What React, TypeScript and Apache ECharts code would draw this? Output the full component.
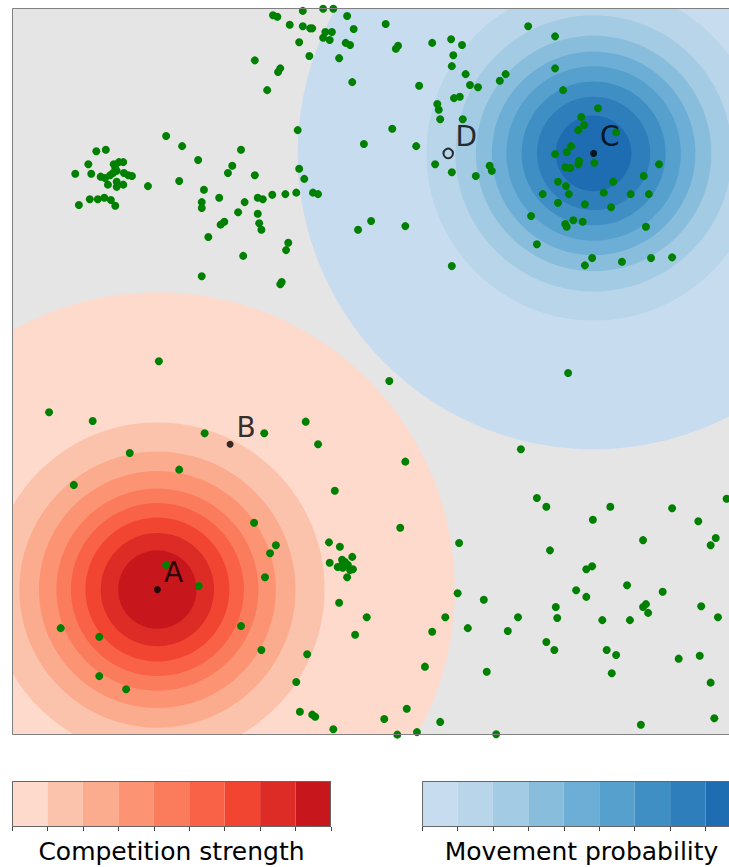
import React, { useEffect, useRef } from "react";
import * as echarts from "echarts";

// Individuals (green points), data units 0..100
const greenPoints: [number, number][] = [
  [35.9, 99.0], [36.5, 98.8], [40.0, 99.6], [42.8, 99.9], [44.2, 99.9], [38.2, 97.7], [40.0, 97.5],
  [41.0, 97.2], [41.3, 97.2], [43.1, 96.7], [44.0, 96.7], [42.8, 95.9], [43.7, 95.6], [39.5, 95.3],
  [46.1, 98.9], [47.0, 97.1], [45.9, 95.2], [46.5, 94.9], [40.9, 93.4], [45.0, 93.1], [33.4, 92.8],
  [36.9, 91.7], [36.6, 91.2], [35.1, 88.7], [46.8, 89.8], [39.3, 83.2], [21.2, 82.4], [23.4, 81.0],
  [31.5, 80.5], [25.6, 79.1], [30.3, 78.3], [29.7, 77.3], [33.4, 77.0], [39.5, 77.9], [40.2, 76.5],
  [18.7, 75.5], [23.0, 76.2], [26.4, 75.0], [26.1, 73.3], [26.1, 72.5], [28.5, 73.9], [32.0, 73.3],
  [31.1, 71.9], [33.8, 73.9], [34.5, 73.7], [35.8, 74.3], [37.6, 74.4], [39.1, 74.6], [41.4, 74.6],
  [42.1, 74.4], [33.8, 71.7], [34.0, 70.4], [34.3, 69.5], [29.2, 70.6], [28.7, 70.2], [27.0, 68.5],
  [38.0, 67.7], [37.7, 66.7], [31.8, 65.9], [26.1, 63.1], [37.1, 62.3], [36.9, 62.0], [47.6, 69.5],
  [11.6, 80.3], [12.9, 80.5], [10.5, 78.5], [8.7, 77.2], [10.9, 77.2], [14.0, 78.5], [14.7, 78.8],
  [15.3, 78.8], [14.2, 78.0], [12.2, 76.8], [12.8, 76.6], [13.5, 77.0], [13.9, 77.3], [14.4, 77.6],
  [15.4, 77.3], [16.0, 77.0], [16.5, 76.9], [13.2, 75.7], [14.4, 76.1], [14.4, 75.4], [15.3, 75.7],
  [9.2, 72.9], [10.7, 73.7], [11.8, 73.7], [12.7, 73.9], [13.6, 73.6], [14.2, 72.8],
  [51.4, 97.8], [52.8, 94.4], [53.1, 94.8], [57.8, 95.2], [60.4, 95.7], [61.9, 94.9], [60.7, 93.5],
  [60.5, 92.0], [62.4, 90.9], [63.0, 89.4], [64.1, 89.1], [67.1, 90.0], [67.9, 90.9], [71.0, 97.5],
  [74.7, 96.1], [74.7, 91.7], [56.0, 89.3], [58.5, 86.8], [58.7, 86.0], [58.9, 84.7], [60.8, 87.6],
  [61.6, 87.8], [62.0, 84.7], [52.3, 83.4], [48.4, 81.3], [55.6, 81.0], [58.2, 78.5], [60.5, 77.4],
  [63.8, 76.9], [65.7, 78.3], [66.0, 77.6], [75.8, 88.7], [80.6, 86.2], [78.3, 85.0], [78.7, 83.9],
  [77.9, 83.2], [83.1, 82.9], [76.9, 81.0], [74.7, 79.9], [76.3, 80.2], [80.1, 78.7], [78.0, 79.0],
  [77.9, 78.5], [76.1, 78.1], [76.8, 78.0], [89.0, 78.5], [86.9, 76.9], [75.1, 76.1], [76.2, 75.5],
  [82.7, 76.1], [73.0, 74.4], [76.6, 74.4], [81.4, 74.6], [85.1, 74.4], [87.6, 74.4], [75.1, 73.2],
  [78.8, 73.0], [82.4, 72.6], [71.4, 71.4], [76.1, 70.3], [76.3, 69.9], [77.2, 70.8], [78.5, 70.6],
  [87.2, 69.9], [72.2, 67.5], [79.8, 65.6], [78.8, 64.6], [83.9, 65.1], [87.9, 65.6], [90.8, 65.7],
  [49.4, 70.7], [54.1, 70.0], [60.5, 64.5],
  [20.2, 51.4], [5.1, 44.4], [11.1, 43.2], [26.5, 41.5], [34.7, 41.5], [40.4, 43.1], [42.1, 40.0],
  [16.2, 38.8], [23.0, 36.5], [8.5, 34.4], [44.4, 33.6], [33.3, 29.2], [36.3, 26.1], [35.5, 25.0],
  [34.8, 21.7], [43.6, 26.5], [45.1, 25.9], [43.7, 23.7], [46.8, 24.5], [45.4, 24.1], [45.8, 23.8],
  [44.8, 23.1], [45.5, 23.0], [46.2, 23.4], [46.5, 22.7], [46.9, 22.8], [45.4, 23.4], [46.1, 21.7],
  [21.2, 23.4], [25.7, 20.5], [45.0, 18.2], [47.2, 13.8], [6.7, 14.7], [12.0, 13.5], [12.0, 8.1],
  [15.7, 6.3], [31.5, 15.0], [34.3, 11.7], [40.6, 11.1], [39.1, 7.3], [39.6, 3.2], [41.3, 2.8],
  [41.7, 2.5], [44.2, 0.8],
  [51.9, 48.7], [76.5, 49.8], [70.0, 39.3], [54.1, 37.6], [72.2, 32.6], [73.5, 31.4], [82.3, 31.4],
  [90.8, 31.2], [98.3, 32.5], [79.9, 29.6], [94.4, 29.4], [53.4, 28.5], [61.5, 26.4], [74.0, 25.4],
  [86.8, 26.8], [96.8, 27.1], [96.1, 26.1], [79.0, 22.8], [79.8, 23.2], [84.6, 20.6], [77.6, 19.9],
  [79.0, 19.0], [89.5, 19.7], [61.3, 19.5], [64.9, 18.6],
  [48.8, 16.2], [59.6, 16.2], [57.8, 14.2], [56.8, 9.4], [54.3, 3.6], [51.2, 2.2], [58.9, 1.8],
  [55.7, 0.4], [66.6, 0.1], [53.0, 0.05], [62.7, 14.7], [69.6, 16.2], [68.2, 14.3], [65.3, 8.7],
  [74.8, 17.6], [75.0, 16.1], [73.5, 12.8], [74.6, 11.7], [81.2, 15.8], [85.0, 15.8], [86.8, 17.6],
  [87.2, 18.0], [87.5, 16.8], [94.8, 17.7], [97.1, 16.2], [81.8, 11.7], [83.1, 11.0], [82.5, 8.5],
  [91.7, 10.5], [94.6, 10.9], [96.1, 7.2], [86.5, 1.4], [96.6, 2.3],
];

// Named sites
const siteNames = ["A", "B", "C"];
const siteValues: [number, number][] = [[20, 20], [30, 40], [80, 80]];
const siteDName = "D";
const siteDValue: [number, number] = [60, 80];

// Contour rings (radius in data units), from outer to inner
const redCenter: [number, number] = [20, 20];
const blueCenter: [number, number] = [80, 80];
const redRadii = [40.9, 23.0, 19.0, 16.3, 13.9, 11.9, 9.9, 7.8, 5.4];
const blueRadii = [40.7, 23.0, 19.0, 16.2, 14.0, 12.0, 9.9, 7.8, 5.2];
const redColors = ["#fddacc", "#fcc3ac", "#fcac8e", "#fc9474", "#fb7c5c", "#f96246", "#f14532", "#dd2b25", "#c7171c"];
const blueColors = ["#c8dcf0", "#b8d5ea", "#a3cbe3", "#88bedc", "#6caed6", "#56a0ce", "#408fc4", "#2e7ebc", "#1e6cb1"];
const levelLabels = ["1", "2", "3", "4", "5", "6", "7", "8", "9"];

const FONT = "DejaVu Sans";

function ringSeries(center: [number, number], radii: number[], colors: string[]) {
  return {
    type: "custom",
    xAxisIndex: 0,
    yAxisIndex: 0,
    clip: true,
    silent: true,
    z: 1,
    data: radii.map((r, i) => [center[0], center[1], r, i]),
    renderItem: (_params: any, api: any) => {
      const c = api.coord([api.value(0), api.value(1)]);
      const r = api.size([api.value(2), 0])[0];
      return {
        type: "circle",
        shape: { cx: c[0], cy: c[1], r },
        style: { fill: colors[api.value(3)], stroke: null },
      };
    },
  };
}

function colorbarAxis(gridIndex: number, name: string) {
  return {
    gridIndex,
    type: "category",
    data: levelLabels,
    boundaryGap: true,
    axisLine: { show: false },
    axisTick: { show: true, interval: 0, length: 4, lineStyle: { color: "#444", width: 1 } },
    axisLabel: { show: false },
    splitLine: { show: false },
    name,
    nameLocation: "middle",
    nameGap: 12,
    nameTextStyle: { fontSize: 25, color: "#000", fontFamily: FONT },
  };
}

function colorbarSeries(axisIndex: number, colors: string[]) {
  return {
    type: "bar",
    xAxisIndex: axisIndex,
    yAxisIndex: axisIndex,
    barWidth: "100%",
    barCategoryGap: "0%",
    silent: true,
    data: colors.map((c) => ({ value: 1, itemStyle: { color: c } })),
  };
}

export default function App() {
  const ref = useRef<HTMLDivElement>(null);
  useEffect(() => {
    if (!ref.current) return;
    const chart = echarts.init(ref.current, undefined, { renderer: "svg" });
    chart.setOption({
      animation: false,
      backgroundColor: "#ffffff",
      grid: [
        { left: 12, top: 8, width: 727, height: 727, show: true, backgroundColor: "#e5e5e5", borderWidth: 0, outerBoundsMode: "none", containLabel: false },
        { left: 12, top: 781, width: 319, height: 46, outerBoundsMode: "none", containLabel: false },
        { left: 422, top: 781, width: 319, height: 46, outerBoundsMode: "none", containLabel: false },
      ],
      xAxis: [
        { gridIndex: 0, type: "value", min: 0, max: 100, show: false },
        colorbarAxis(1, "Competition strength"),
        colorbarAxis(2, "Movement probability"),
      ],
      yAxis: [
        { gridIndex: 0, type: "value", min: 0, max: 100, show: false },
        { gridIndex: 1, type: "value", min: 0, max: 1, show: false },
        { gridIndex: 2, type: "value", min: 0, max: 1, show: false },
      ],
      series: [
        ringSeries(redCenter, redRadii, redColors),
        ringSeries(blueCenter, blueRadii, blueColors),
        {
          type: "scatter",
          xAxisIndex: 0,
          yAxisIndex: 0,
          symbol: "circle",
          symbolSize: 8,
          itemStyle: { color: "#008000", opacity: 1 },
          z: 3,
          silent: true,
          data: greenPoints,
        },
        {
          type: "scatter",
          xAxisIndex: 0,
          yAxisIndex: 0,
          symbol: "circle",
          symbolSize: 7,
          itemStyle: { color: "#000000" },
          z: 4,
          silent: true,
          label: {
            show: true,
            formatter: "{b}",
            position: "right",
            distance: 0,
            offset: [3, -17],
            fontSize: 28,
            color: "#000",
            fontFamily: FONT,
          },
          data: siteNames.map((n, i) => ({ name: n, value: siteValues[i] })),
        },
        {
          type: "scatter",
          xAxisIndex: 0,
          yAxisIndex: 0,
          symbol: "circle",
          symbolSize: 9.5,
          itemStyle: { color: "rgba(0,0,0,0)", borderColor: "#000", borderWidth: 2 },
          z: 4,
          silent: true,
          label: {
            show: true,
            formatter: "{b}",
            position: "right",
            distance: 0,
            offset: [1.5, -17],
            fontSize: 28,
            color: "#000",
            fontFamily: FONT,
          },
          data: [{ name: siteDName, value: siteDValue }],
        },
        colorbarSeries(1, redColors),
        colorbarSeries(2, blueColors),
      ],
      graphic: [
        {
          type: "rect",
          z: 100,
          silent: true,
          shape: { x: 12.5, y: 8.5, width: 727, height: 726 },
          style: { fill: "none", stroke: "#808080", lineWidth: 1 },
        },
        {
          type: "rect",
          z: 100,
          silent: true,
          shape: { x: 12.5, y: 781.5, width: 318, height: 45 },
          style: { fill: "none", stroke: "#666", lineWidth: 1 },
        },
        {
          type: "rect",
          z: 100,
          silent: true,
          shape: { x: 422.5, y: 781.5, width: 318, height: 45 },
          style: { fill: "none", stroke: "#666", lineWidth: 1 },
        },
      ],
    });
    return () => chart.dispose();
  }, []);
  return (
    <div
      ref={ref}
      style={{ position: "fixed", left: 0, top: 0, width: 729, height: 867 }}
    />
  );
}
